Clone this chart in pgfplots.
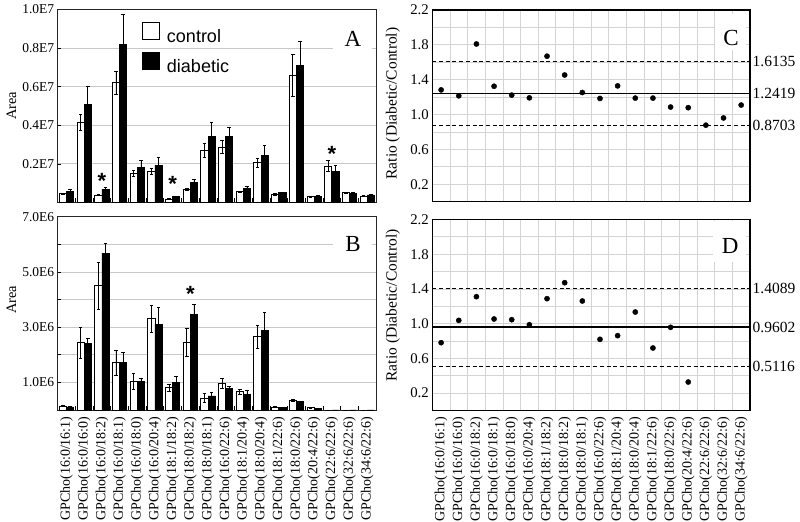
\documentclass[border=0pt]{standalone}
\usepackage{fontspec}
\setmainfont{Liberation Serif}
\newfontfamily\sansf{Liberation Sans}
\usepackage{pgfplots}
\pgfplotsset{compat=1.18}
\usepackage{pgfplotstable}

\definecolor{gridA}{RGB}{200,200,200}
\definecolor{gridC}{RGB}{212,212,212}

% values in units of 1E6
\pgfplotstableread{
x c ce d de
1 0.46 0.03 0.57 0.09
2 4.17 0.41 5.06 0.98
3 0.38 0.03 0.69 0.07
4 6.21 0.59 8.20 1.53
5 1.49 0.16 1.80 0.36
6 1.61 0.17 1.94 0.41
7 0.17 0.02 0.29 0.04
8 0.69 0.05 1.03 0.17
9 2.71 0.36 3.40 0.74
10 2.88 0.35 3.40 0.51
11 0.55 0.05 0.74 0.10
12 2.06 0.24 2.45 0.52
13 0.43 0.04 0.50 0.05
14 6.59 1.07 7.10 1.27
15 0.29 0.03 0.33 0.04
16 1.89 0.30 1.63 0.29
17 0.51 0.04 0.46 0.04
18 0.34 0.04 0.39 0.04
}\tableA

\pgfplotstableread{
x c ce d de
1 0.14 0.02 0.11 0.02
2 2.44 0.57 2.40 0.19
3 4.50 0.86 5.68 0.35
4 1.72 0.45 1.72 0.37
5 1.03 0.30 1.03 0.13
6 3.31 0.49 3.11 0.60
7 0.81 0.13 1.01 0.22
8 2.44 0.51 3.46 0.37
9 0.43 0.17 0.51 0.12
10 0.97 0.18 0.77 0.08
11 0.66 0.10 0.55 0.16
12 2.66 0.41 2.89 0.63
13 0.11 0.01 0.08 0.01
14 0.34 0.04 0.31 0.02
15 0.08 0.01 0.05 0.01
16 0 0 0 0
17 0 0 0 0
18 0 0 0 0
}\tableB

\pgfplotstableread{
x r
1 1.283
2 1.215
3 1.810
4 1.325
5 1.223
6 1.192
7 1.670
8 1.454
9 1.253
10 1.185
11 1.329
12 1.189
13 1.189
14 1.086
15 1.079
16 0.878
17 0.961
18 1.109
}\tableC

\pgfplotstableread{
x r
1 0.781
2 1.038
3 1.311
4 1.054
5 1.046
6 0.988
7 1.288
8 1.472
9 1.261
10 0.820
11 0.862
12 1.134
13 0.720
14 0.958
15 0.328
}\tableD

\def\catlabels{GPCho(16:0/16:1),GPCho(16:0/16:0),GPCho(16:0/18:2),GPCho(16:0/18:1),GPCho(16:0/18:0),GPCho(16:0/20:4),GPCho(18:1/18:2),GPCho(18:0/18:2),GPCho(18:0/18:1),GPCho(16:0/22:6),GPCho(18:1/20:4),GPCho(18:0/20:4),GPCho(18:1/22:6),GPCho(18:0/22:6),GPCho(20:4/22:6),GPCho(22:6/22:6),GPCho(32:6/22:6),GPCho(34:6/22:6)}

\pgfplotsset{
  barpanel/.style={
    scale only axis, anchor=south west, width=318.3bp,
    xmin=0.5, xmax=18.5, ymin=0,
    ybar, bar width=7.2bp,
    xtick={1,...,18},
    minor xtick={1.5,2.5,...,17.5},
    major x tick style={draw=none},
    minor x tick style={black, line width=0.7bp},
    minor tick length=4bp, major tick length=3bp, tick align=inside,
    xtick pos=left, ytick pos=left,
    ytick style={black, line width=0.7bp},
    ymajorgrids, grid style={gridA, line width=0.8bp},
    axis line style={black!85, line width=0.8bp},
    yticklabel style={font=\fontsize{13.5bp}{14bp}\selectfont},
    xticklabel style={rotate=90, anchor=east, font=\fontsize{14bp}{14bp}\selectfont},
    xticklabel shift=3bp,
    clip=false,
    error bars/error bar style={black, line width=0.7bp},
    error bars/error mark options={rotate=90, mark size=1.8bp, line width=0.7bp, black},
  },
  ratiopanel/.style={
    scale only axis, anchor=south west, width=317.7bp,
    xmin=0.5, xmax=18.5, ymin=0, ymax=2.2,
    xtick={1,...,18},
    minor xtick={1.5,2.5,...,17.5},
    xminorgrids,
    major x tick style={draw=none},
    minor x tick style={draw=none},
    ytick={0.2,0.4,0.6,0.8,1.0,1.2,1.4,1.6,1.8,2.0,2.2},
    yticklabels={{0.2},{},{0.6},{},{1.0},{},{1.4},{},{1.8},{},{2.2}},
    ymajorgrids, ytick style={draw=none},
    grid style={gridC, line width=0.8bp},
    minor grid style={gridC, line width=0.8bp},
    axis line style={black, line width=1.2bp},
    yticklabel style={font=\fontsize{14.8bp}{15bp}\selectfont},
    xticklabel style={rotate=90, anchor=east, font=\fontsize{14bp}{14bp}\selectfont},
    xticklabel shift=3bp,
    ylabel={Ratio (Diabetic/Control)},
    clip=false,
  },
}

\begin{document}
\begin{tikzpicture}
\path[use as bounding box] (0,0) rectangle (800bp,522bp);

% ---------------- Panel A ----------------
\begin{axis}[barpanel, at={(57.7bp,319.5bp)}, height=193bp, ymax=10,
  ytick={2,4,6,8,10}, yticklabels={0.2E7,0.4E7,0.6E7,0.8E7,1.0E7},
  xticklabels=\empty,
  ylabel={Area},
  ylabel style={at={(axis description cs:-0.145,0.5)}, anchor=center, font=\fontsize{14.4bp}{15bp}\selectfont},
  legend style={draw=none, fill=none, at={(axis description cs:0.2648,0.935)}, anchor=north west,
    inner sep=0pt, row sep=8bp, column sep=5bp,
    nodes={inner xsep=2bp, inner ysep=0bp},
    font=\sansf\fontsize{18bp}{20bp}\selectfont},
  legend cell align=left,
]
\addplot[fill=white, draw=black, line width=0.8bp, bar shift=-3.6bp,
  legend image code/.code={\draw[fill=white, draw=black, line width=0.8bp] (0bp,-3bp) rectangle (17bp,14bp);},
  error bars/.cd, y dir=both, y explicit]
  table[x=x, y=c, y error=ce] {\tableA};
\addlegendentry{control}
\addplot[fill=black, draw=black, line width=0.8bp, bar shift=3.6bp,
  legend image code/.code={\draw[fill=black, draw=black, line width=0.8bp] (0bp,-3bp) rectangle (17bp,14bp);},
  error bars/.cd, y dir=both, y explicit]
  table[x=x, y=d, y error=de] {\tableA};
\addlegendentry{diabetic}
\fill[white] (axis cs:16.07,7.59) rectangle (axis cs:18.28,9.35);
\node[font=\fontsize{23bp}{23bp}\selectfont, inner sep=0pt] at (axis cs:17.2,8.47) {A};
\node[font=\sansf\bfseries\fontsize{22bp}{22bp}\selectfont, anchor=base, yshift=-12bp, inner sep=0pt] at (axis cs:3,1.36) {*};
\node[font=\sansf\bfseries\fontsize{22bp}{22bp}\selectfont, anchor=base, yshift=-12bp, inner sep=0pt] at (axis cs:7,1.18) {*};
\node[font=\sansf\bfseries\fontsize{22bp}{22bp}\selectfont, anchor=base, yshift=-12bp, inner sep=0pt] at (axis cs:16,2.73) {*};
\end{axis}

% ---------------- Panel B ----------------
\begin{axis}[barpanel, at={(57.7bp,112bp)}, height=193.3bp, ymax=7,
  ytick={1,2,3,4,5,6,7}, yticklabels={{1.0E6},{},{3.0E6},{},{5.0E6},{},{7.0E6}},
  xticklabels/.expanded={\catlabels},
  ylabel={Area},
  ylabel style={at={(axis description cs:-0.145,0.57)}, anchor=center, font=\fontsize{14.4bp}{15bp}\selectfont},
]
\addplot[fill=white, draw=black, line width=0.8bp, bar shift=-3.6bp,
  error bars/.cd, y dir=both, y explicit]
  table[x=x, y=c, y error=ce] {\tableB};
\addplot[fill=black, draw=black, line width=0.8bp, bar shift=3.6bp,
  error bars/.cd, y dir=both, y explicit]
  table[x=x, y=d, y error=de] {\tableB};
\fill[white] (axis cs:16.07,5.5) rectangle (axis cs:18.28,6.59);
\node[font=\fontsize{23bp}{23bp}\selectfont, inner sep=0pt] at (axis cs:17.2,6.01) {B};
\node[font=\sansf\bfseries\fontsize{22bp}{22bp}\selectfont, anchor=base, yshift=-12bp, inner sep=0pt] at (axis cs:8,4.38) {*};
\end{axis}

% ---------------- Panel C ----------------
\begin{axis}[ratiopanel, at={(432.3bp,320.3bp)}, height=191.7bp,
  xticklabels=\empty,
  ylabel style={at={(axis description cs:-0.124,0.512)}, anchor=center, font=\fontsize{15.5bp}{16bp}\selectfont},
]
\fill[white] (axis cs:16.52,1.74) rectangle (axis cs:18.28,2.154);
\node[font=\fontsize{23bp}{23bp}\selectfont, inner sep=0pt] at (axis cs:17.42,1.884) {C};
\addplot[black, line width=1.1bp, dash pattern=on 4bp off 2.7bp] coordinates {(0.5,1.6135) (18.5,1.6135)};
\addplot[black, line width=1.4bp] coordinates {(0.5,1.2419) (18.5,1.2419)};
\addplot[black, line width=1.1bp, dash pattern=on 4bp off 2.7bp] coordinates {(0.5,0.8703) (18.5,0.8703)};
\addplot[only marks, mark=*, mark size=2.6bp, black] table[x=x, y=r] {\tableC};
\node[anchor=west, inner sep=1bp, xshift=1.5bp, font=\fontsize{15.5bp}{16bp}\selectfont] at (axis cs:18.5,1.6135) {1.6135};
\node[anchor=west, inner sep=1bp, xshift=1.5bp, font=\fontsize{15.5bp}{16bp}\selectfont] at (axis cs:18.5,1.2419) {1.2419};
\node[anchor=west, inner sep=1bp, xshift=1.5bp, font=\fontsize{15.5bp}{16bp}\selectfont] at (axis cs:18.5,0.8703) {0.8703};
\end{axis}

% ---------------- Panel D ----------------
\begin{axis}[ratiopanel, at={(432.3bp,111.5bp)}, height=191bp,
  xticklabels/.expanded={\catlabels},
  ylabel style={at={(axis description cs:-0.124,0.55)}, anchor=center, font=\fontsize{15.5bp}{16bp}\selectfont},
]
\fill[white] (axis cs:16.4,1.71) rectangle (axis cs:18.28,2.18);
\node[font=\fontsize{23bp}{23bp}\selectfont, inner sep=0pt] at (axis cs:17.37,1.895) {D};
\addplot[black, line width=1.1bp, dash pattern=on 4bp off 2.7bp] coordinates {(0.5,1.4089) (18.5,1.4089)};
\addplot[black, line width=1.4bp] coordinates {(0.5,0.9602) (18.5,0.9602)};
\addplot[black, line width=1.1bp, dash pattern=on 4bp off 2.7bp] coordinates {(0.5,0.5116) (18.5,0.5116)};
\addplot[only marks, mark=*, mark size=2.6bp, black] table[x=x, y=r] {\tableD};
\node[anchor=west, inner sep=1bp, xshift=1.5bp, font=\fontsize{15.5bp}{16bp}\selectfont] at (axis cs:18.5,1.4089) {1.4089};
\node[anchor=west, inner sep=1bp, xshift=1.5bp, font=\fontsize{15.5bp}{16bp}\selectfont] at (axis cs:18.5,0.9602) {0.9602};
\node[anchor=west, inner sep=1bp, xshift=1.5bp, font=\fontsize{15.5bp}{16bp}\selectfont] at (axis cs:18.5,0.5116) {0.5116};
\end{axis}
\end{tikzpicture}
\end{document}
